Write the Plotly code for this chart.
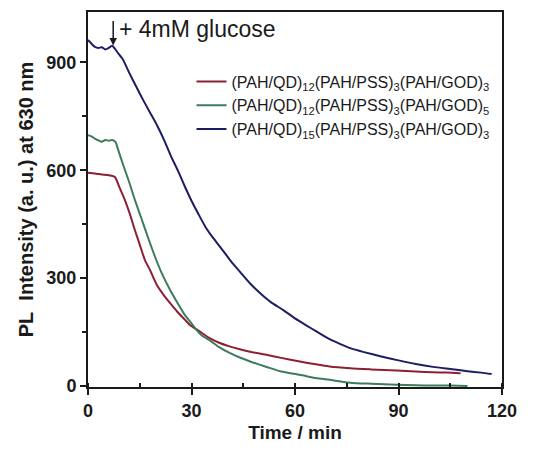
import plotly.graph_objects as go

# ---- data ----
blue_t = [0, 1, 2, 3, 4, 5, 6, 7, 8, 9, 10, 12, 14, 16, 18, 20, 22, 24, 26, 28, 30, 32, 34, 36, 38, 40, 42, 44, 47, 50, 53, 56.6, 60, 63, 66.3, 70, 73, 76, 80, 85, 90, 95, 100, 105, 110, 114, 117]
blue_v = [962, 952, 943, 940, 942, 936, 940, 946, 935, 922, 910, 870, 832, 795, 760, 725, 685, 640, 600, 556, 515, 478, 443, 415, 390, 365, 340, 318, 285, 257, 233, 211, 188, 170, 151, 130, 117, 105, 94, 82, 71, 61, 53, 47, 41, 37, 33]

red_t = [0, 2, 4, 6, 7.8, 9, 10.7, 12, 13.6, 15, 16.5, 18, 19, 20, 22, 23.8, 26, 28, 29.6, 32, 35.4, 38, 41, 44, 47, 52, 56, 61.4, 66, 70, 76, 82, 89.5, 95, 100, 104, 108]
red_v = [593, 591, 588, 586, 581, 555, 517, 482, 433, 393, 350, 322, 300, 280, 252, 230, 205, 185, 169, 154, 132, 120, 110, 102, 95, 86, 78, 68, 60, 54, 49, 46, 43, 40, 38, 37, 35]

green_t = [0, 1, 2, 3, 4, 5, 6, 7, 8, 8.8, 10, 12, 13.6, 15.5, 17.5, 19.4, 21.4, 23.8, 26, 28, 29.6, 31.5, 33, 35.4, 38, 41.2, 44, 47, 52, 56, 61.4, 66, 70, 76, 82, 89.5, 95, 100, 105, 110]
green_v = [697, 694, 688, 683, 679, 684, 682, 684, 678, 655, 620, 565, 517, 465, 410, 360, 313, 267, 230, 198, 179, 155, 140, 126, 108, 91, 79, 68, 52, 40, 31, 22, 17, 9, 6, 3, 2, 1, 1, 0]

names = [
    "(PAH/QD)<sub>12</sub>(PAH/PSS)<sub>3</sub>(PAH/GOD)<sub>3</sub>",
    "(PAH/QD)<sub>12</sub>(PAH/PSS)<sub>3</sub>(PAH/GOD)<sub>5</sub>",
    "(PAH/QD)<sub>15</sub>(PAH/PSS)<sub>3</sub>(PAH/GOD)<sub>3</sub>",
]
colors = ["#8e1f33", "#3e7a5c", "#1d1d63"]

x_ticks = [0, 30, 60, 90, 120]
y_ticks = [0, 300, 600, 900]

fig = go.Figure()
for t, v, n, c in zip([red_t, green_t, blue_t], [red_v, green_v, blue_v], names, colors):
    fig.add_trace(go.Scatter(x=t, y=v, mode="lines", name=n,
                             line=dict(color=c, width=2, shape="spline", smoothing=0.6)))

font_family = "Liberation Sans, Arial, sans-serif"
ink = "#1a1a1a"
axis_common = dict(
    showline=True, linecolor=ink, linewidth=2, mirror=True,
    ticks="outside", ticklen=6, tickwidth=2, tickcolor=ink,
    showgrid=False, zeroline=False, automargin=False,
    tickfont=dict(family=font_family, size=18, color=ink),
)
fig.update_xaxes(range=[0, 120], tickvals=x_ticks, ticktext=[f"<b>{v}</b>" for v in x_ticks],
                 minor=dict(ticks="inside", ticklen=4, tickwidth=1.5, tickcolor=ink, dtick=15),
                 title=dict(text="<b>Time / min</b>", font=dict(family=font_family, size=19, color=ink), standoff=6),
                 **axis_common)
fig.update_yaxes(range=[-3, 1040], tickvals=y_ticks, ticktext=[f"<b>{v}</b>" for v in y_ticks],
                 minor=dict(ticks="outside", ticklen=4, tickwidth=1.5, tickcolor=ink, dtick=150),
                 title=dict(text="<b>PL&nbsp; Intensity (a. u.) at 630 nm</b>", font=dict(family=font_family, size=20, color=ink), standoff=7),
                 **axis_common)

fig.add_annotation(x=7.3, y=947, xref="x", yref="y", ax=0, ay=-26,
                   showarrow=True, arrowhead=2, arrowsize=1, arrowwidth=1.5, arrowcolor=ink, text="")
fig.add_annotation(x=8.3, y=992, xref="x", yref="y", xanchor="left", yanchor="middle",
                   text="+ 4mM glucose", showarrow=False,
                   font=dict(family=font_family, size=23, color=ink))

# page body has an 8px margin: size and margins compensate so the plot area lands where the reference has it
fig.update_layout(
    width=530, height=442,
    margin=dict(l=80, r=36, t=4, b=63),
    paper_bgcolor="white", plot_bgcolor="white",
    legend=dict(x=0.25, y=0.86, xanchor="left", yanchor="top",
                bgcolor="rgba(0,0,0,0)", tracegroupgap=0,
                font=dict(family=font_family, size=16, color=ink)),
    showlegend=True,
)
fig.write_html("out.html")
